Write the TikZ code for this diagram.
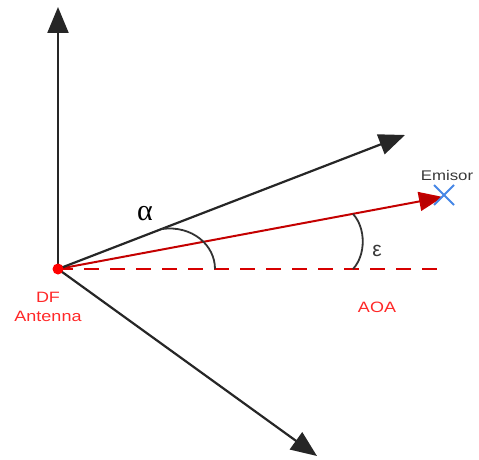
\documentclass[tikz,border=0pt]{standalone}
\usepackage{fontspec}
\setmainfont{Liberation Sans}
\newfontfamily\serifgr{Liberation Serif}
\usetikzlibrary{arrows.meta,calc}
\definecolor{linered}{RGB}{196,0,0}
\definecolor{headred}{RGB}{185,0,0}
\definecolor{dashred}{RGB}{215,0,0}
\definecolor{labelred}{RGB}{255,40,40}
\definecolor{xblue}{RGB}{70,135,230}
\definecolor{txtgray}{RGB}{55,55,55}
\tikzset{
  blkarrow/.style={line width=2.2pt, draw=black!85, -{Triangle[length=26pt,width=21pt]}},
  redarrow/.style={line width=2pt, draw=linered, -{Triangle[length=24pt,width=19pt,fill=headred]}},
  dashline/.style={line width=2pt, draw=dashred, dash pattern=on 15pt off 11pt},
  anglearc/.style={line width=1.8pt, draw=black!80},
  redlabel/.style={text=labelred, font=\fontsize{15pt}{19pt}\selectfont, xscale=1.2, inner sep=0pt, align=center},
}
\begin{document}
\begin{tikzpicture}[x=1pt,y=-1pt]
\useasboundingbox (0,0) rectangle (479,460);
\coordinate (O) at (58,269);
\coordinate (up) at (58,7);
\coordinate (r1) at (405,135);
\coordinate (down) at (317,456);
\coordinate (em) at (443,197);
\coordinate (dashend) at (446,269);
\coordinate (a1) at (162,229);
\coordinate (a2) at (215,269);
\coordinate (e1) at (353,269);
\coordinate (e2) at (353,214);
\coordinate (x) at (444,195);

\draw[dashline] (O) -- (dashend);
\draw[redarrow] (O) -- (em);
\draw[blkarrow] (O) -- (up);
\draw[blkarrow] (O) -- (r1);
\draw[blkarrow] (O) -- (down);

\draw[anglearc] (a1) .. controls (192,225) and (215,245) .. (a2);
\draw[anglearc] (e1) .. controls (366,255) and (366,228) .. (e2);

\draw[xblue, line width=2pt] ($(x)+(-10,-10)$) -- ($(x)+(10,10)$);
\draw[xblue, line width=2pt] ($(x)+(-10,10)$) -- ($(x)+(10,-10)$);

\fill[red] (O) circle (5.5pt);

\node[text=txtgray, font=\fontsize{14pt}{15pt}\selectfont, xscale=1.2, inner sep=0pt] (emisor) at (447,175) {Emisor};
\node[redlabel] (df) at (48,307) {DF\\Antenna};
\node[redlabel] (aoa) at (377,307) {AOA};
\node[text=txtgray, font=\fontsize{21pt}{22pt}\selectfont, inner sep=0pt] (eps) at (377,251) {ε};
\node[text=black, font=\serifgr\fontsize{30pt}{32pt}\selectfont, inner sep=0pt] (alpha) at (145,214) {α};
\end{tikzpicture}
\end{document}
